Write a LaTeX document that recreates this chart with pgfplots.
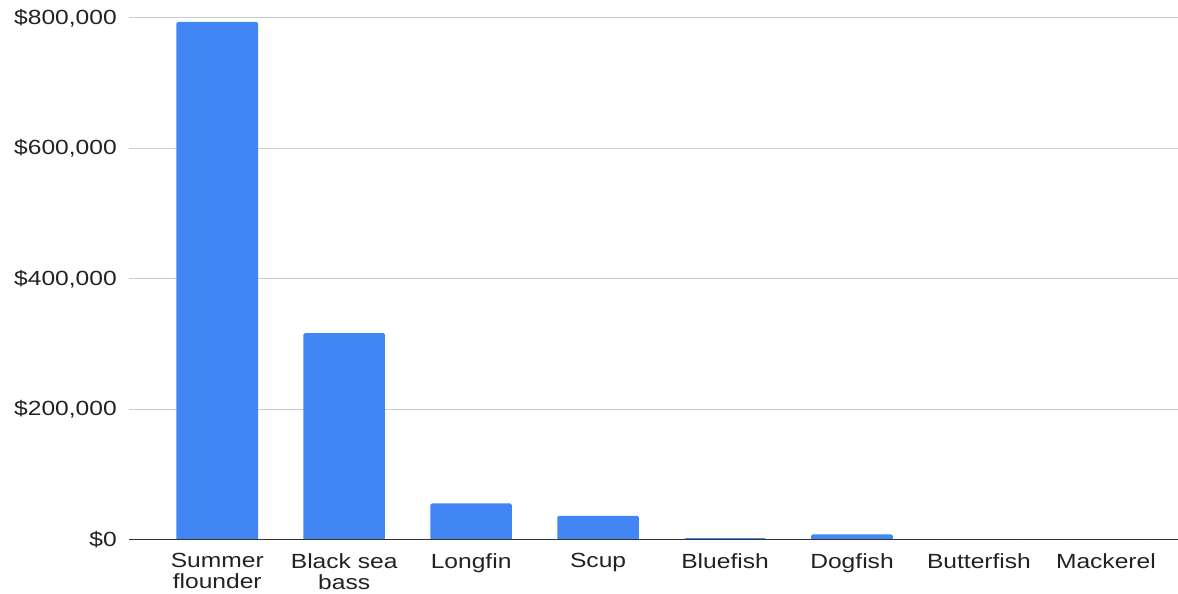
\documentclass[border=0pt]{standalone}
\usepackage{pgfplots}
\pgfplotsset{compat=1.18}
\usepackage{fontspec}
\setmainfont[FakeStretch=1.2]{Liberation Sans}

\definecolor{barblue}{HTML}{4285F4}
\definecolor{gridgray}{HTML}{CCCCCC}
\definecolor{axisgray}{HTML}{333333}
\definecolor{labelgray}{HTML}{222222}

\begin{document}
\begin{tikzpicture}
\useasboundingbox (0,0) rectangle (1178pt,594pt);
\begin{axis}[
    at={(129pt,54pt)}, anchor=south west,
    scale only axis,
    width=1049pt, height=522pt,
    xmin=-0.695, xmax=7.568,
    ymin=0, ymax=800000,
    axis x line*=bottom, axis y line*=left,
    axis line style={draw=none},
    major tick length=0pt,
    ymajorgrids,
    grid style={draw=gridgray, line width=1pt},
    ytick={0,200000,400000,600000,800000},
    yticklabels={{\$0},{\$200,000},{\$400,000},{\$600,000},{\$800,000}},
    xtick={0,1,2,3,4,5,6,7},
    xticklabels={{Summer\\flounder}, {Black sea\\bass}, Longfin, Scup, Bluefish, Dogfish, Butterfish, Mackerel},
    tick label style={font=\fontsize{20.5pt}{21pt}\selectfont, text=labelgray},
    yticklabel style={anchor=east, inner sep=0pt, xshift=-12pt},
    xticklabel style={anchor=north, align=center, inner sep=0pt, yshift=-13pt},
    /pgf/number format/assume math mode=true,
    scaled y ticks=false,
    ybar, bar width=81.6pt,
]
% Revenue by species
\addplot[fill=barblue, draw=none, rounded corners=1.5pt] coordinates {
    (0,794000) (1,317000) (2,56000) (3,37000)
    (4,3000) (5,8500) (6,0) (7,0)
};
% baseline drawn over the bar feet
\draw[axisgray, line width=1.7pt] (rel axis cs:0,0) -- (rel axis cs:1,0);
\end{axis}
\end{tikzpicture}
\end{document}
